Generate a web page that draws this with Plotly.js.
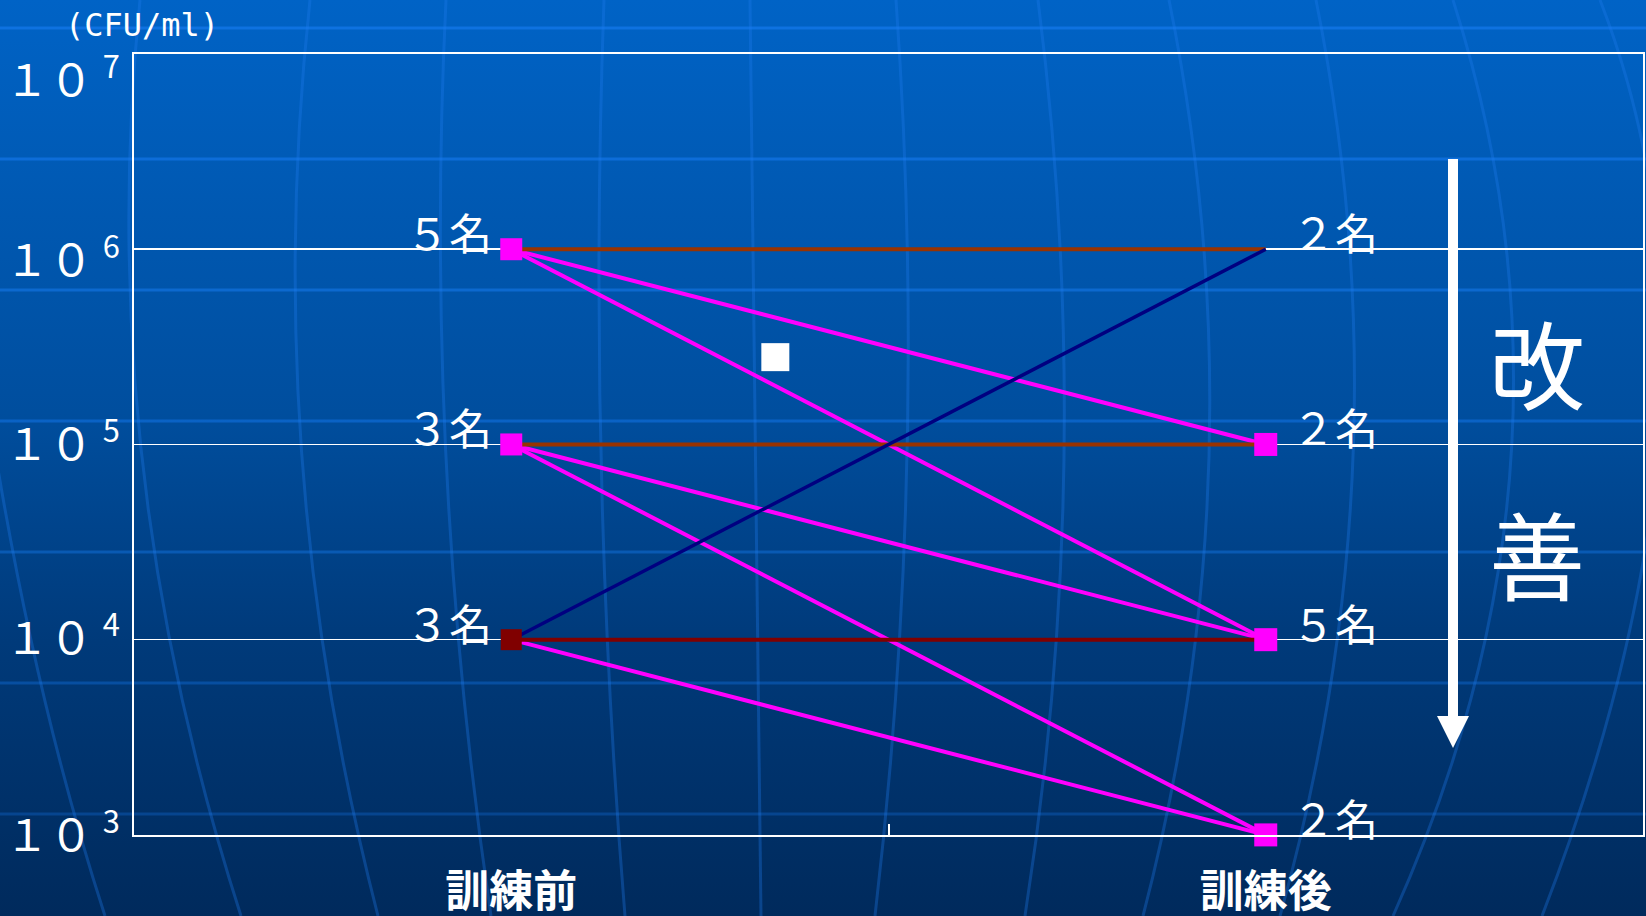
<!DOCTYPE html>
<html>
<head>
<meta charset="utf-8">
<script src="https://cdn.plot.ly/plotly-3.0.1.min.js"></script>
<style>
  html, body { margin: 0; padding: 0; width: 1646px; height: 916px; overflow: hidden;
    background: linear-gradient(to bottom, #0063C6 0%, #004E9E 45%, #003A7A 70%, #002A5C 100%); }
  #chart { width: 1646px; height: 916px; }
</style>
</head>
<body>
<div id="chart"></div>
<script>
// ---- data ----
const categories = ['訓練前', '訓練後'];
const yTickVals = [1e3, 1e4, 1e5, 1e6, 1e7];
const yTickLabels = ['１０ <sup>3</sup>', '１０ <sup>4</sup>', '１０ <sup>5</sup>', '１０ <sup>6</sup>', '１０ <sup>7</sup>'];

// transitions (before level -> after level)
const sameBefore = [1e6, 1e5];          // unchanged (brown)
const sameAfter  = [1e6, 1e5];
const same4Before = [1e4];              // unchanged (dark red)
const same4After  = [1e4];
const downBefore = [1e6, 1e6, 1e5, 1e5, 1e4];   // improved (magenta)
const downAfter  = [1e5, 1e4, 1e4, 1e3, 1e3];
const upBefore = [1e4];                 // worsened (navy)
const upAfter  = [1e6];

// group points and counts
const beforeMarkerLevels = [1e6, 1e5];
const beforeDarkMarkerLevels = [1e4];
const afterMarkerLevels = [1e5, 1e4, 1e3];
const beforeLevels = [1e6, 1e5, 1e4];
const beforeLabels = ['５名', '３名', '３名'];
const afterLevels = [1e6, 1e5, 1e4, 1e3];
const afterLabels = ['２名', '２名', '５名', '２名'];

// stray white square
const strayX = [0.35];
const strayY = [2.8e5];

const unitLabel = '(CFU/ml)';
const sideLabel = ['改', '善'];

// ---- helpers ----
const FONT = '"Noto Sans CJK JP", "Noto Sans CJK SC", sans-serif';
const W = 1646, H = 916;
const M = {l: 134, r: 3, t: 54, b: 81};
const PW = W - M.l - M.r, PH = H - M.t - M.b;
const px = x => (x - M.l) / PW;
const py = y => (H - M.b - y) / PH;
const yLabelShift = [4, 6, 5, -6, -21];   // label placement tweaks (pixels)

function linkTrace(bef, aft, color, width) {
  const x = [], y = [];
  bef.forEach((b, i) => { x.push(categories[0], categories[1], null); y.push(b, aft[i], null); });
  return {type: 'scatter', mode: 'lines', x, y, line: {color, width}, hoverinfo: 'skip',
          cliponaxis: false, connectgaps: false};
}

const traces = [
  linkTrace(downBefore, downAfter, '#FF00FF', 4),
  linkTrace(sameBefore, sameAfter, '#993300', 4),
  linkTrace(same4Before, same4After, '#800000', 4),
  linkTrace(upBefore, upAfter, '#000080', 3.5),
  {type: 'scatter', mode: 'markers', x: beforeMarkerLevels.map(() => categories[0]), y: beforeMarkerLevels,
   marker: {symbol: 'square', size: 22, color: '#FF00FF'}, cliponaxis: false},
  {type: 'scatter', mode: 'markers', x: beforeDarkMarkerLevels.map(() => categories[0]), y: beforeDarkMarkerLevels,
   marker: {symbol: 'square', size: 21, color: '#800000'}, cliponaxis: false},
  {type: 'scatter', mode: 'markers', x: afterMarkerLevels.map(() => categories[1]), y: afterMarkerLevels,
   marker: {symbol: 'square', size: 23, color: '#FF00FF'}, cliponaxis: false},
  {type: 'scatter', mode: 'markers', x: strayX, y: strayY, xaxis: 'x2',
   marker: {symbol: 'square', size: 28, color: '#FFFFFF'}, cliponaxis: false}
];

// ---- background globe lines ----
const shapes = [];
[28, 159, 290, 421, 552, 683, 814].forEach((y, i) => {
  const a = 0.72 - i * 0.07;
  shapes.push({type: 'line', xref: 'paper', yref: 'paper', x0: px(0), x1: px(W), y0: py(y), y1: py(y),
    line: {color: 'rgba(20,120,235,' + a.toFixed(2) + ')', width: 3}, layer: 'below'});
});
const meridians = [
  [[-10, 420], [40, 680], [105, 916]],
  [[140, 0], [142, 458], [241, 916]],
  [[310, 0], [302, 458], [378, 916]],
  [[446, 0], [446, 458], [491, 916]],
  [[604, 0], [601, 458], [625, 916]],
  [[750, 0], [756, 458], [761, 916]],
  [[896, 0], [907, 458], [875, 916]],
  [[1038, 0], [1064, 458], [1025, 916]],
  [[1169, 0], [1209, 458], [1143, 916]],
  [[1316, 0], [1353, 458], [1280, 916]],
  [[1453, 0], [1511, 458], [1393, 916]],
  [[1600, 0], [1660, 420], [1542, 916]]
];
meridians.forEach(p => {
  const [a, m, b] = p;
  const c = [2 * m[0] - (a[0] + b[0]) / 2, 2 * m[1] - (a[1] + b[1]) / 2];
  const path = 'M ' + px(a[0]) + ',' + py(a[1]) + ' Q ' + px(c[0]) + ',' + py(c[1]) + ' ' + px(b[0]) + ',' + py(b[1]);
  shapes.push({type: 'path', xref: 'paper', yref: 'paper', path,
    line: {color: 'rgba(30,125,240,0.32)', width: 3}, layer: 'below'});
});
// arrow (decoration)
shapes.push({type: 'line', xref: 'paper', yref: 'paper', x0: px(1453), x1: px(1453), y0: py(159), y1: py(722),
  line: {color: '#FFFFFF', width: 10}, layer: 'above'});
shapes.push({type: 'path', xref: 'paper', yref: 'paper',
  path: 'M ' + px(1437) + ',' + py(716) + ' L ' + px(1469) + ',' + py(716) + ' L ' + px(1453) + ',' + py(748) + ' Z',
  fillcolor: '#FFFFFF', line: {color: '#FFFFFF', width: 0}, layer: 'above'});

// ---- annotations ----
const annotations = [];
yTickVals.forEach((v, i) => annotations.push({
  xref: 'paper', yref: 'y', x: 0, y: Math.log10(v), text: yTickLabels[i],
  showarrow: false, xanchor: 'right', yanchor: 'middle', xshift: -12, yshift: yLabelShift[i],
  font: {family: FONT, size: 44, color: '#FFFFFF'}
}));
beforeLevels.forEach((lv, i) => annotations.push({
  xref: 'x', yref: 'y', x: categories[0], y: Math.log10(lv), text: beforeLabels[i],
  showarrow: false, xanchor: 'right', yanchor: 'middle', xshift: -17, yshift: 18,
  font: {family: FONT, size: 43, color: '#FFFFFF'}
}));
afterLevels.forEach((lv, i) => annotations.push({
  xref: 'x', yref: 'y', x: categories[1], y: Math.log10(lv), text: afterLabels[i],
  showarrow: false, xanchor: 'left', yanchor: 'middle', xshift: 24, yshift: 18,
  font: {family: FONT, size: 43, color: '#FFFFFF'}
}));
annotations.push({xref: 'paper', yref: 'paper', x: px(142), y: py(25), text: unitLabel, showarrow: false,
  xanchor: 'center', yanchor: 'middle', font: {family: '"DejaVu Sans Mono", monospace', size: 32, color: '#FFFFFF'}});
annotations.push({xref: 'paper', yref: 'paper', x: px(1537), y: py(360), text: sideLabel[0], showarrow: false,
  xanchor: 'center', yanchor: 'middle', font: {family: FONT, size: 96, color: '#FFFFFF'}});
annotations.push({xref: 'paper', yref: 'paper', x: px(1537), y: py(551), text: sideLabel[1], showarrow: false,
  xanchor: 'center', yanchor: 'middle', font: {family: FONT, size: 96, color: '#FFFFFF'}});

const layout = {
  width: W, height: H,
  margin: M,
  paper_bgcolor: 'rgba(0,0,0,0)',
  plot_bgcolor: 'rgba(0,0,0,0)',
  showlegend: false,
  font: {family: FONT, color: '#FFFFFF'},
  xaxis: {
    type: 'category', categoryorder: 'array', categoryarray: categories,
    range: [-0.5, 1.5], showgrid: false, zeroline: false,
    showline: true, mirror: true, linecolor: '#FFFFFF', linewidth: 2,
    ticks: '', ticklabelstandoff: 17,
    tickfont: {family: FONT, size: 44, color: '#FFFFFF', weight: 'bold'}
  },
  xaxis2: {
    overlaying: 'x', anchor: 'y', range: [-0.5, 1.5], tickvals: [0.5],
    ticks: 'inside', ticklen: 11, tickwidth: 2, tickcolor: '#FFFFFF',
    showticklabels: false, showgrid: false, zeroline: false, showline: false
  },
  yaxis: {
    type: 'log', range: [2.9995, 7], tickvals: yTickVals,
    showticklabels: false,
    showgrid: true, gridcolor: '#FFFFFF', gridwidth: 1.5, zeroline: false,
    showline: true, mirror: true, linecolor: '#FFFFFF', linewidth: 2,
    ticks: ''
  },
  shapes, annotations
};

Plotly.newPlot('chart', traces, layout, {displayModeBar: false, staticPlot: true});
</script>
</body>
</html>
